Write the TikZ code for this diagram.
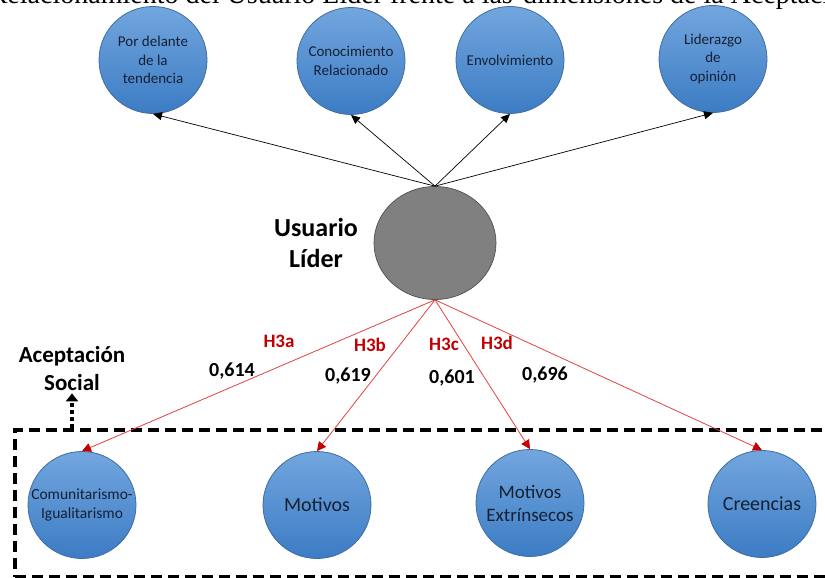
\documentclass[tikz,border=0pt]{standalone}
\usepackage{fontspec}
\setmainfont{Carlito}
\newfontfamily\headserif{Liberation Serif}
\usetikzlibrary{shapes.geometric,arrows.meta}

\definecolor{bubbletop}{RGB}{114,166,222}
\definecolor{bubblebot}{RGB}{60,124,196}
\definecolor{bubbleedge}{RGB}{64,108,160}
\definecolor{bubbletext}{RGB}{22,32,52}
\definecolor{hubfill}{RGB}{128,128,128}
\definecolor{hubedge}{RGB}{80,80,80}
\definecolor{linkred}{RGB}{228,64,64}
\definecolor{tipred}{RGB}{196,0,0}
\definecolor{hyplabel}{RGB}{192,0,0}

\begin{document}
\begin{tikzpicture}[x=1pt,y=-1pt,
  bubble/.style={ellipse, minimum width=108pt, minimum height=107pt, inner sep=0pt,
    draw=bubbleedge, line width=0.8pt, top color=bubbletop, bottom color=bubblebot},
  bubbletxt/.style={text=bubbletext, align=center, inner sep=0pt},
  toptxt/.style={bubbletxt, font=\fontsize{15}{18.5}\selectfont},
  hub/.style={ellipse, minimum width=122pt, minimum height=113pt, inner sep=0pt,
    fill=hubfill, draw=hubedge, line width=0.7pt},
  feeds/.style={black, line width=0.7pt, -{Triangle[length=9pt,width=8pt]}},
  hyplink/.style={linkred, line width=0.8pt, -{Triangle[length=9pt,width=9pt,color=tipred]}},
  hyptag/.style={text=hyplabel, font=\bfseries\fontsize{19}{22}\selectfont},
  loadtag/.style={font=\bfseries\fontsize{20}{24}\selectfont},
  grouping/.style={draw, line width=3.5pt, dash pattern=on 11pt off 6pt, inner sep=0pt},
  groupcue/.style={line width=3.5pt, dash pattern=on 4pt off 3pt, -{Triangle[length=8pt,width=12pt]}},
  headtxt/.style={inner sep=0pt, font=\headserif\fontsize{28}{32}\selectfont}
]
\useasboundingbox (0,0) rectangle (825,578);

% heading line, cut at the top edge
\node[headtxt, anchor=base east] (headL) at (513,4)
  {Relacionamiento del Usuario Líder frente a las};
\node[headtxt, anchor=base west] (headR) at (523,4)
  {dimensiones de la Aceptación Social};

% dimensions of the lead user
\node[bubble] (t1) at (153,60) {};
\node[bubble] (t2) at (351,61) {};
\node[bubble] (t3) at (510,60) {};
\node[bubble] (t4) at (713,59) {};
\node[toptxt] (t1txt) at (t1) {Por delante\\de la\\tendencia};
\node[toptxt] (t2txt) at (t2) {Conocimiento\\Relacionado};
\node[toptxt] (t3txt) at (t3) {Envolvimiento};
\node[toptxt] (t4txt) at (t4) {Liderazgo\\de\\opinión};

% central construct
\node[hub] (hub) at (435,243) {};
\node[align=center, font=\bfseries\fontsize{26}{31}\selectfont] (hubname) at (316,243) {Usuario\\Líder};

% social acceptance group
\node[grouping, anchor=north west, minimum width=840pt, minimum height=147pt] (frame) at (13,428) {};
\node[align=center, inner sep=2pt, font=\bfseries\fontsize{23}{28}\selectfont] (acep) at (72,369) {Aceptación\\Social};
\draw[groupcue] (frame.north -| acep.south) -- (acep.south);

\node[bubble] (b1) at (82,505) {};
\node[bubble] (b2) at (317,505) {};
\node[bubble] (b3) at (530,503) {};
\node[bubble] (b4) at (762,504) {};
\node[bubbletxt, font=\fontsize{15.5}{19}\selectfont] (b1txt) at (b1) {Comunitarismo-\\Igualitarismo};
\node[bubbletxt, font=\fontsize{20}{24}\selectfont] (b2txt) at (b2) {Motivos};
\node[bubbletxt, font=\fontsize{19}{23}\selectfont] (b3txt) at (b3) {Motivos\\Extrínsecos};
\node[bubbletxt, font=\fontsize{20}{24}\selectfont] (b4txt) at (b4) {Creencias};

% reflective links
\draw[feeds] (hub.north) -- (t1.south);
\draw[feeds] (hub.north) -- (t2.south);
\draw[feeds] (hub.north) -- (t3.south);
\draw[feeds] (hub.north) -- (t4.south);

% hypotheses
\draw[hyplink] (hub.south) -- (b1.north);
\draw[hyplink] (hub.south) -- (b2.north);
\draw[hyplink] (hub.south) -- (b3.north);
\draw[hyplink] (hub.south) -- (b4.north);

\node[hyptag] (h3a) at (279,341) {H3a};
\node[hyptag] (h3b) at (370,345) {H3b};
\node[hyptag] (h3c) at (444,344) {H3c};
\node[hyptag] (h3d) at (497,343) {H3d};

\node[loadtag] (l3a) at (232,371) {0,614};
\node[loadtag] (l3b) at (348,376) {0,619};
\node[loadtag] (l3c) at (452,378) {0,601};
\node[loadtag] (l3d) at (545,375) {0,696};
\end{tikzpicture}
\end{document}
